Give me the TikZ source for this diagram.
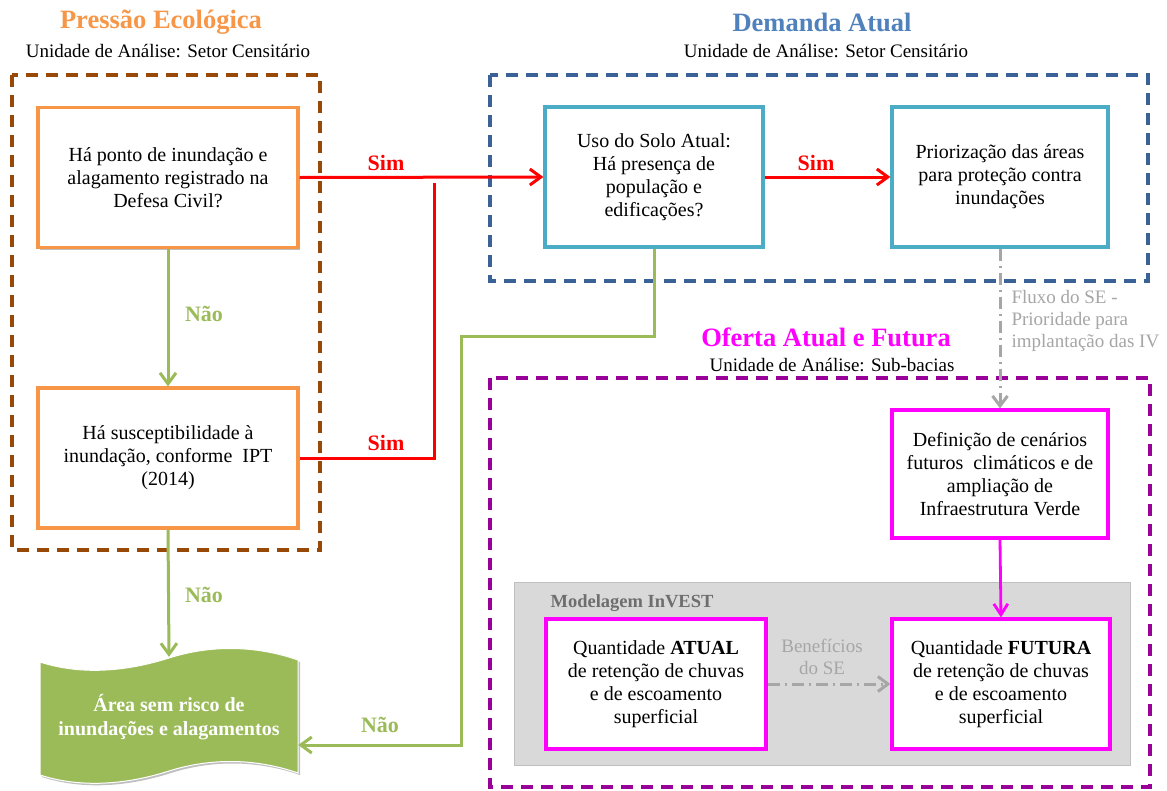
\documentclass[tikz,border=0pt]{standalone}
\usepackage{fontspec}
\setmainfont{Liberation Serif}
\usetikzlibrary{arrows.meta,shadows}
\definecolor{orangeB}{HTML}{F79646}
\definecolor{brownD}{HTML}{984807}
\definecolor{blueD}{HTML}{3B6296}
\definecolor{blueT}{HTML}{4F81BD}
\definecolor{tealB}{HTML}{4BACC6}
\definecolor{greenB}{HTML}{9BBB59}
\definecolor{redA}{HTML}{FF0000}
\definecolor{magB}{HTML}{FF00FF}
\definecolor{purpD}{HTML}{990099}
\definecolor{grayF}{HTML}{D9D9D9}
\definecolor{grayL}{HTML}{A6A6A6}
\definecolor{grayT}{HTML}{6E6E6E}
\begin{document}
\begin{tikzpicture}[x=1pt,y=-1pt,
  shad/.style={drop shadow={shadow xshift=2pt,shadow yshift=-2pt,opacity=0.25,fill=black}},
  box/.style={draw,line width=3.2pt,fill=white,align=center,inner sep=2pt,
    font=\fontsize{20}{23}\selectfont,shad},
  orbox/.style={box,draw=orangeB,minimum width=260,minimum height=140},
  tlbox/.style={box,draw=tealB,minimum height=140},
  mgbox/.style={box,draw=magB},
  contour/.style={line width=3.2pt,dash pattern=on 12pt off 8pt},
  ttl/.style={font=\fontsize{26.5}{29}\selectfont\bfseries},
  subttl/.style={font=\fontsize{19}{22}\selectfont},
  lbl/.style={font=\fontsize{22}{24}\selectfont\bfseries},
  glbl/.style={font=\fontsize{19}{22}\selectfont,text=grayL},
  tip/.style={-{Straight Barb[length=11pt,width=16pt]}},
  redarr/.style={draw=redA,line width=3pt},
  grnarr/.style={draw=greenB,line width=3pt},
  gryarr/.style={draw=grayL,line width=3pt,dash pattern=on 12pt off 5pt on 2pt off 5pt,
    -{Straight Barb[length=10pt,width=15pt]}},
  magarr/.style={draw=magB,line width=2.8pt,-{Straight Barb[length=11pt,width=14pt]}},
]
\useasboundingbox (0,0) rectangle (1167,790);
\fill[white] (0,0) rectangle (1167,790);

% titles
\node[ttl,text=orangeB] (t1) at (161,22) {Pressão Ecológica};
\node[subttl] (s1) at (168,51) {Unidade de Análise: Setor Censitário};
\node[ttl,text=blueT] (t2) at (822,22) {Demanda Atual};
\node[subttl] (s2) at (826,51) {Unidade de Análise: Setor Censitário};
\node[ttl,text=magB] (t3) at (826,337) {Oferta Atual e Futura};
\node[subttl] (s3) at (832,365) {Unidade de Análise: Sub-bacias};

% containers
\draw[contour,draw=brownD] (12,75) rectangle (320,550);
\draw[contour,draw=blueD] (490,75) rectangle (1148,281);
\draw[contour,draw=purpD] (490,378) rectangle (1150,787);
\node[draw=black!25,fill=grayF,line width=0.8pt,minimum width=616,minimum height=183] (inv) at (822,673.5) {};
\node[font=\fontsize{18.5}{20}\selectfont\bfseries,text=grayT,anchor=west] (invl) at (547,603) {Modelagem InVEST};

% boxes
\node[orbox] (b1) at (168,177.5) {Há ponto de inundação e\\alagamento registrado na\\Defesa Civil?};
\node[orbox] (b2) at (168,458) {Há susceptibilidade à\\inundação, conforme~ IPT\\(2014)};
\node[tlbox,minimum width=218] (uso) at (654,177) {Uso do Solo Atual:\\Há presença de\\população e\\edificações?};
\node[tlbox,minimum width=216] (pri) at (1000,177) {Priorização das áreas\\para proteção contra\\inundações};
\node[mgbox,minimum width=216,minimum height=128] (def) at (1000,474) {Definição de cenários\\futuros~ climáticos e de\\ampliação de\\Infraestrutura Verde};
\node[mgbox,minimum width=220,minimum height=130] (atu) at (656,684) {Quantidade \textbf{ATUAL}\\de retenção de chuvas\\e de escoamento\\superficial};
\node[mgbox,minimum width=218,minimum height=130] (fut) at (1001,684) {Quantidade \textbf{FUTURA}\\de retenção de chuvas\\e de escoamento\\superficial};

% document (tape) shape
\filldraw[fill=greenB,draw=white,line width=1pt,shad]
  (40,662) .. controls (80,675) and (125,672) .. (169,658)
  .. controls (210,645) and (255,645) .. (298,660)
  -- (298,773) .. controls (255,758) and (210,758) .. (169,771)
  .. controls (125,785) and (80,788) .. (40,775) -- cycle;
\node[minimum width=258,minimum height=120,align=center,text=white,
  font=\fontsize{20}{24}\selectfont\bfseries] (doc) at (169,717)
  {Área sem risco de\\inundações e alagamentos};

% connectors
\coordinate (rj) at (434,183);
\draw[redarr,tip] (b1.east) -- (uso.west);
\draw[redarr] (b2.east) -| (rj);
\draw[redarr,tip] (uso.east) -- (pri.west);
\draw[grnarr,tip] (b1.south) -- (b2.north);
\draw[grnarr,tip] (b2.south) -- (doc.north);
\coordinate (g1) at (461,336);
\draw[grnarr,tip] (uso.south) |- (g1) |- ([yshift=-28pt]doc.east);
\draw[gryarr] (pri.south) -- (def.north);
\draw[magarr] (def.south) -- (fut.north);
\draw[gryarr] (atu.east) -- (fut.west);

% labels
\node[lbl,text=redA] (l1) at (386,163) {Sim};
\node[lbl,text=redA] (l2) at (386,443) {Sim};
\node[lbl,text=redA] (l3) at (816,163) {Sim};
\node[lbl,text=greenB] (l4) at (204,314) {Não};
\node[lbl,text=greenB] (l5) at (204,595) {Não};
\node[lbl,text=greenB] (l6) at (380,725) {Não};
\node[glbl,align=left,anchor=north west] (fl) at (1008,287) {Fluxo do SE -\\Prioridade para\\implantação das IV};
\node[glbl,align=center] (be) at (822,657) {Benefícios\\do SE};
\end{tikzpicture}
\end{document}
